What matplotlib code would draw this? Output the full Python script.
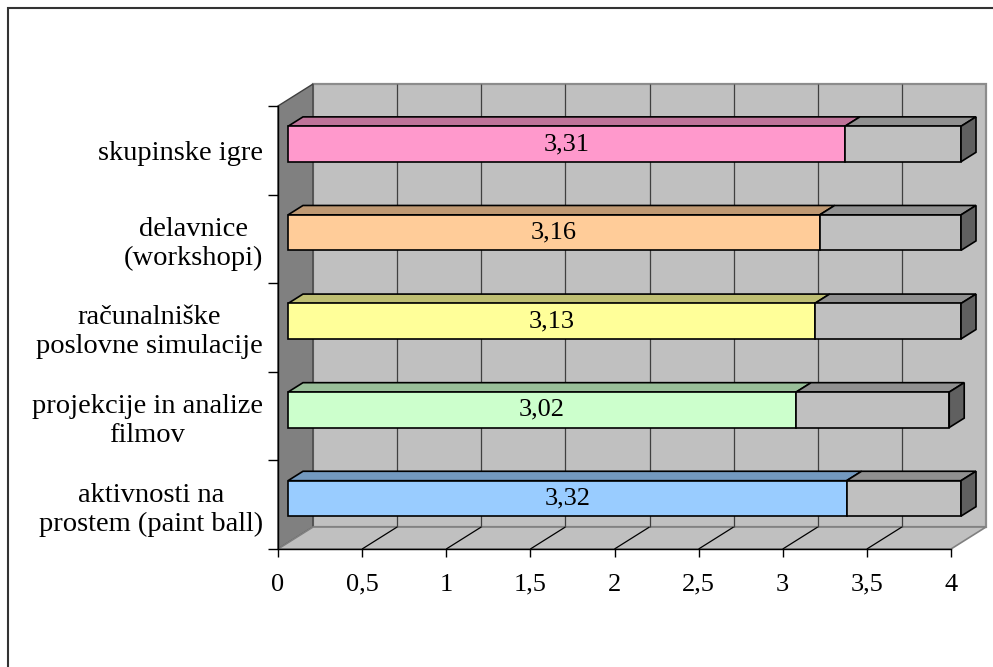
import numpy as np
import matplotlib.pyplot as plt
from matplotlib.patches import Polygon, Rectangle
from matplotlib.colors import to_rgb

plt.rcParams['font.family'] = ['Liberation Serif', 'DejaVu Serif']

# categories from bottom to top
kategorije = ['aktivnosti na\nprostem (paint ball)',
              'projekcije in analize\nfilmov',
              'računalniške\nposlovne simulacije',
              'delavnice\n(workshopi)',
              'skupinske igre']
ocene = [3.32, 3.02, 3.13, 3.16, 3.31]
ostanek = [0.68, 0.91, 0.87, 0.84, 0.69]
barve = ['#99CCFF', '#CCFFCC', '#FFFF99', '#FFCC99', '#FF99CC']
x_ticks = [0, 0.5, 1, 1.5, 2, 2.5, 3, 3.5, 4]
x_labels = ['0', '0,5', '1', '1,5', '2', '2,5', '3', '3,5', '4']

W, H, DPI = 993, 667, 100
fig = plt.figure(figsize=(W / DPI, H / DPI), dpi=DPI)
ax = fig.add_axes([278 / W, 1 - 549 / H, 673 / W, 443 / H])
ax.set_xlim(0, 4)
ax.set_ylim(-0.5, 4.5)
ax.patch.set_visible(False)

# depth of the 3d box (inches) converted to data units
DX = 0.35 / (673 / DPI / 4)
DY = 0.22 / (443 / DPI / 5)


def p(x, y, d):
    return (x + d * DX, y + d * DY)


def face(pts, fc, ec='black', lw=1.2, z=2):
    ax.add_patch(Polygon([p(*q) for q in pts], closed=True, fc=fc, ec=ec, lw=lw,
                         zorder=z, clip_on=False, joinstyle='miter'))


def line(a, b, color='black', lw=1.0, z=1):
    pa, pb = p(*a), p(*b)
    ax.plot([pa[0], pb[0]], [pa[1], pb[1]], color=color, lw=lw, zorder=z,
            clip_on=False, solid_capstyle='butt')


# walls and floor
face([(0, -0.5, 1), (4, -0.5, 1), (4, 4.5, 1), (0, 4.5, 1)], '#C0C0C0', ec='#8C8C8C', lw=1.6, z=0)
face([(0, -0.5, 0), (0, -0.5, 1), (0, 4.5, 1), (0, 4.5, 0)], '#808080', ec='#404040', lw=1.0, z=0)
face([(0, -0.5, 0), (4, -0.5, 0), (4, -0.5, 1), (0, -0.5, 1)], '#C0C0C0', ec='#808080', lw=1.2, z=0)
for t in x_ticks[1:-1]:
    line((t, -0.5, 0), (t, -0.5, 1), color='black', lw=0.9)
    line((t, -0.5, 1), (t, 4.5, 1), color='#404040', lw=0.9)

# stacked 3d bars
h, d0, d1 = 0.2, 0.286, 0.714
for i in range(len(kategorije)):
    y = i
    segs = [(0, ocene[i], barve[i]), (ocene[i], ocene[i] + ostanek[i], '#C0C0C0')]
    for k, (x0, x1, c) in enumerate(segs):
        top = tuple(v * 0.75 for v in to_rgb(c))
        face([(x0, y + h, d0), (x1, y + h, d0), (x1, y + h, d1), (x0, y + h, d1)], top, z=3)
        face([(x0, y - h, d0), (x1, y - h, d0), (x1, y + h, d0), (x0, y + h, d0)], c, z=3)
        if k == 1:
            face([(x1, y - h, d0), (x1, y - h, d1), (x1, y + h, d1), (x1, y + h, d0)], '#606060', z=3)
    ax.text(*p(ocene[i] / 2, y, d0), f'{ocene[i]:.2f}'.replace('.', ','),
            ha='center', va='center', fontsize=19, zorder=5)

# axes
for s in ['top', 'right']:
    ax.spines[s].set_visible(False)
for s in ['left', 'bottom']:
    ax.spines[s].set_linewidth(1.0)
    ax.spines[s].set_zorder(4)
ax.set_xticks(x_ticks, x_labels)
ax.tick_params(axis='x', length=5.8, width=1.0, pad=12, labelsize=19)
ax.set_yticks(np.arange(-0.5, 4.6, 1), [''] * 6)
ax.tick_params(axis='y', which='major', length=7.2, width=1.0)
ax.set_yticks(range(len(kategorije)), kategorije, minor=True)
ax.tick_params(axis='y', which='minor', length=0, pad=11, labelsize=20.5)
for lbl in ax.get_yticklabels(minor=True):
    lbl.set_multialignment('center')

# chart area border
fig.add_artist(Rectangle((8 / W, -0.1), 1.2, 1 - 8 / H + 0.1, transform=fig.transFigure,
                         fill=False, ec='#333333', lw=1.5))

fig.savefig('out.png', dpi=DPI)
